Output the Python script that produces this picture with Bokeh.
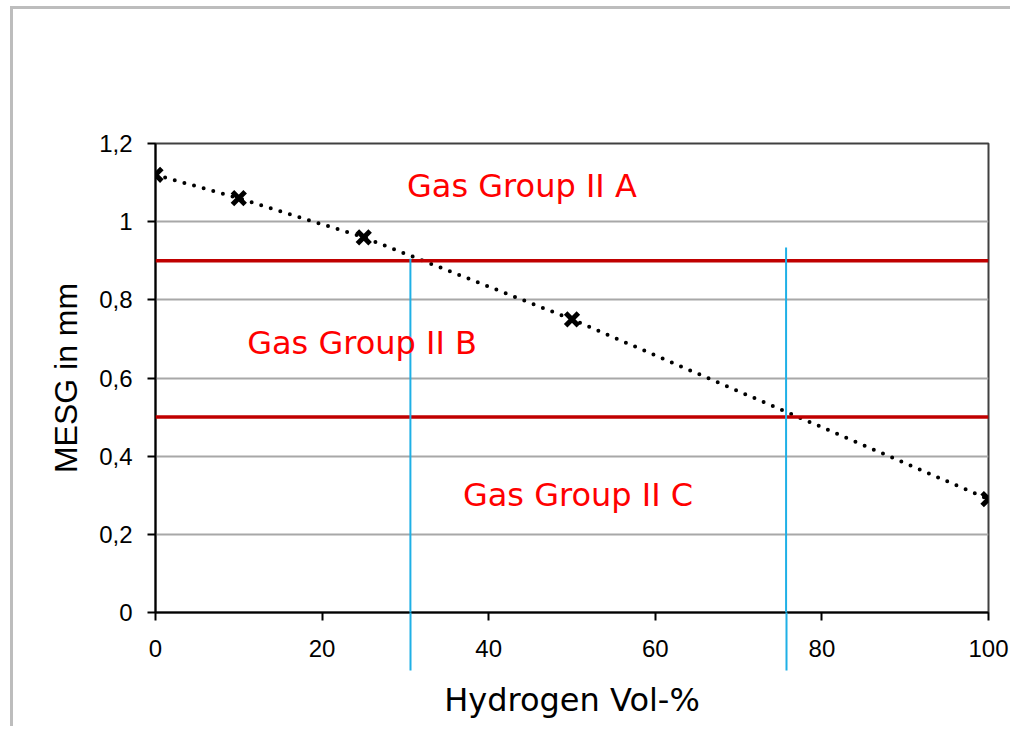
from bokeh.plotting import figure
from bokeh.models import Range1d, FixedTicker, CustomJSTickFormatter, Span, Arrow, Label
from bokeh.embed import file_html
from bokeh.resources import INLINE

# data
h2_vol = [0, 10, 25, 50, 100]
mesg = [1.12, 1.06, 0.96, 0.75, 0.29]
group_limits = [0.9, 0.5]
cross_x = [30.6, 75.7]
cross_top = [0.905, 0.934]
group_names = ["Gas Group II A", "Gas Group II B", "Gas Group II C"]
group_label_x = [30.2, 11.0, 36.9]
group_label_y = [1.09, 0.69, 0.30]
x_ticks = [0, 20, 40, 60, 80, 100]
y_ticks = [0, 0.2, 0.4, 0.6, 0.8, 1.0, 1.2]
x_title = "Hydrogen Vol-%"
y_title = "MESG in mm"

x_lo, x_hi = x_ticks[0], x_ticks[-1]
y_lo, y_hi = y_ticks[0], y_ticks[-1]

p = figure(width=1000, height=720, output_backend="svg", toolbar_location=None,
           x_range=Range1d(x_lo, x_hi), y_range=Range1d(y_lo, y_hi),
           min_border_left=142, min_border_right=25, min_border_top=134, min_border_bottom=117)
p.styles = {"box-shadow": "-3px -3px 0px 0px #bdbdbd",
            "margin-left": "13px", "margin-top": "9px",
            "margin-bottom": "-40px", "margin-right": "-30px"}

p.outline_line_color = "#404040"
p.outline_line_width = 2
p.xgrid.visible = False
p.ygrid.ticker = FixedTicker(ticks=y_ticks)
p.ygrid.grid_line_color = "#a8a8a8"
p.ygrid.grid_line_width = 2

for ax in (p.xaxis, p.yaxis):
    ax.axis_line_color = "black"
    ax.axis_line_width = 2
    ax.major_tick_line_color = "black"
    ax.major_tick_line_width = 2
    ax.major_tick_out = 8
    ax.major_tick_in = 0
    ax.minor_tick_in = 0
    ax.major_label_text_font = "Liberation Sans"
    ax.major_label_text_font_size = "24px"
    ax.major_label_text_color = "black"
    ax.axis_label_text_font_style = "normal"
    ax.axis_label_text_color = "black"
    ax.axis_label_text_font_size = "32px"

# x axis: black major ticks; the two blue crossing lines continue below the axis as minor ticks
p.xaxis.ticker = FixedTicker(ticks=x_ticks, minor_ticks=cross_x)
p.xaxis.minor_tick_out = 58
p.xaxis.minor_tick_line_color = "#1fb0e6"
p.xaxis.minor_tick_line_width = 2
p.xaxis.major_label_standoff = -31
p.xaxis.axis_label = x_title
p.xaxis.axis_label_text_font = "DejaVu Sans"
p.xaxis.axis_label_standoff = 21

p.yaxis.ticker = FixedTicker(ticks=y_ticks)
p.yaxis.minor_tick_line_color = None
p.yaxis.major_label_standoff = 15
p.yaxis.formatter = CustomJSTickFormatter(code="return tick.toString().replace('.', ',');")
p.yaxis.axis_label = y_title
p.yaxis.axis_label_text_font = "Liberation Sans"
p.yaxis.axis_label_standoff = 12

for lim in group_limits:
    p.add_layout(Span(location=lim, dimension="width", line_color="#c00000", line_width=3.5))

for cx, ct in zip(cross_x, cross_top):
    p.add_layout(Arrow(x_start=cx, y_start=ct, x_end=cx, y_end=y_lo, start=None, end=None,
                       line_color="#1fb0e6", line_width=2))

p.line(h2_vol, mesg, line_color="black", line_width=4, line_dash="0 10", line_cap="round")
p.scatter(h2_vol, mesg, marker="x", size=18, line_color="black", line_width=5)

for name, lx, ly in zip(group_names, group_label_x, group_label_y):
    p.add_layout(Label(x=lx, y=ly, text=name, text_color="#ff0000",
                       text_font="DejaVu Sans", text_font_size="32px",
                       text_baseline="middle", text_align="left"))

open("out.html", "w").write(file_html(p, INLINE))
